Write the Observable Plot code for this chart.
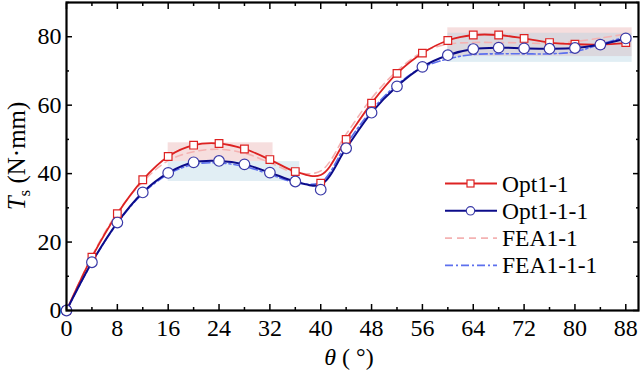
<!DOCTYPE html>
<html>
<head>
<meta charset="utf-8">
<script src="https://cdn.jsdelivr.net/npm/d3@7"></script>
<script src="https://cdn.jsdelivr.net/npm/@observablehq/plot@0.6"></script>
<style>
  html, body { margin: 0; padding: 0; background: #fff; }
  #chart svg { display: block; }
</style>
</head>
<body>
<div id="chart"></div>
<script>
// ---- data ----
const theta = [0,4,8,12,16,20,24,28,32,36,40,44,48,52,56,60,64,68,72,76,80,84,88];
const opt11Markers  = [0,15.6,28.3,38.2,45.0,48.3,48.8,47.2,44.1,40.6,37.2,50.0,60.6,69.3,75.2,78.9,80.5,80.5,79.5,78.3,77.8,77.7,78.3];
const opt11Line     = [0,15.6,28.3,38.2,45.0,48.3,48.8,47.2,44.1,40.6,39.6,50.0,60.6,69.3,75.2,78.9,80.5,80.5,79.5,78.3,77.8,77.7,78.1];
const opt111Markers = [0,14.1,25.7,34.5,40.2,43.3,43.7,42.7,40.3,37.7,35.3,47.4,57.8,65.5,71.2,74.6,76.4,76.8,76.6,76.5,76.7,77.7,79.5];
const opt111Line    = [0,14.1,25.7,34.5,40.2,43.3,43.7,42.7,40.3,37.7,36.8,47.4,57.8,65.5,71.2,74.6,76.4,76.8,76.6,76.5,76.7,77.7,79.5];
const fea11  = [0,15.9,28.6,37.6,43.8,46.4,47.1,46.0,43.2,40.3,40.8,51.5,62.0,70.0,75.5,77.8,78.3,78.3,78.2,78.0,78.6,79.6,80.8];
const fea111 = [0,14.0,25.5,34.2,39.8,42.7,43.1,42.1,39.8,37.4,37.5,48.5,58.5,66.0,71.0,73.5,74.8,75.0,75.0,75.0,75.6,77.8,80.0];

// shaded fluctuation bands: [x1, x2, y1, y2]
const pinkBands = [[16, 32.5, 43.5, 49.0], [60, 89, 74.2, 82.6]];
const blueBands = [[16, 36.7, 37.7, 43.5], [60, 89, 72.5, 81.0]];

const seriesNames = ["Opt1-1", "Opt1-1-1", "FEA1-1", "FEA1-1-1"];
const xTicksMajor = [0,8,16,24,32,40,48,56,64,72,80,88];
const xTicksMinor = [4,12,20,28,36,44,52,60,68,76,84];
const yTicksMajor = [0,20,40,60,80];
const yTicksMinor = [10,30,50,70,90];

// ---- styles ----
const RED = "#dd2222", NAVY = "#0c0c8a", CIRC = "#3a3aa8", PINK = "#f4b2b2", LBLUE = "#5d70ee";
const FONT = "'Liberation Serif', 'Times New Roman', serif";

const rows = (ys) => theta.map((t, i) => ({t, v: ys[i]}));
const bands = (arr) => arr.map(([x1, x2, y1, y2]) => ({x1, x2, y1, y2}));

const W = 641, H = 373;
const plot = Plot.plot({
  width: W, height: H,
  marginLeft: 66, marginRight: 3, marginTop: 2, marginBottom: 63,
  style: {fontFamily: FONT, color: "#000", background: "#fff"},
  x: {domain: [0, 90]},
  y: {domain: [0, 90]},
  marks: [
    Plot.rect(bands(pinkBands), {x1: "x1", x2: "x2", y1: "y1", y2: "y2", fill: "#f0c8c8", fillOpacity: 0.6}),
    Plot.rect(bands(blueBands), {x1: "x1", x2: "x2", y1: "y1", y2: "y2", fill: "#a9cfe0", fillOpacity: 0.35}),
    Plot.line(rows(fea11), {x: "t", y: "v", curve: "catmull-rom", stroke: PINK, strokeWidth: 1.6, strokeDasharray: "7,5"}),
    Plot.line(rows(fea111), {x: "t", y: "v", curve: "catmull-rom", stroke: LBLUE, strokeWidth: 1.6, strokeDasharray: "8,3,2,3"}),
    Plot.line(rows(opt11Line), {x: "t", y: "v", curve: "catmull-rom", stroke: RED, strokeWidth: 1.8}),
    Plot.line(rows(opt111Line), {x: "t", y: "v", curve: "catmull-rom", stroke: NAVY, strokeWidth: 2}),
    Plot.dot(rows(opt11Markers), {x: "t", y: "v", symbol: "square", r: 4.3, fill: "#fff", stroke: RED, strokeWidth: 1.2}),
    Plot.dot(rows(opt111Markers), {x: "t", y: "v", symbol: "circle", r: 5.3, fill: "#fff", stroke: CIRC, strokeWidth: 1.2}),
    // tick labels
    Plot.axisX({ticks: xTicksMajor, tickSize: 0, tickPadding: 8, label: null, fontSize: 24, fontFamily: FONT}),
    Plot.axisY({ticks: yTicksMajor, tickSize: 0, tickPadding: 5, label: null, fontSize: 24, fontFamily: FONT}),
    // inward ticks on all sides
    Plot.axisX({anchor: "bottom", ticks: xTicksMajor, tickSize: -6, text: null, label: null, strokeWidth: 1.5}),
    Plot.axisX({anchor: "bottom", ticks: xTicksMinor, tickSize: -3, text: null, label: null, strokeWidth: 1.5}),
    Plot.axisX({anchor: "top", ticks: xTicksMajor, tickSize: -6, text: null, label: null, strokeWidth: 1.5}),
    Plot.axisX({anchor: "top", ticks: xTicksMinor, tickSize: -3, text: null, label: null, strokeWidth: 1.5}),
    Plot.axisY({anchor: "left", ticks: yTicksMajor, tickSize: -6, text: null, label: null, strokeWidth: 1.5}),
    Plot.axisY({anchor: "left", ticks: yTicksMinor, tickSize: -3, text: null, label: null, strokeWidth: 1.5}),
    Plot.axisY({anchor: "right", ticks: yTicksMajor, tickSize: -6, text: null, label: null, strokeWidth: 1.5}),
    Plot.axisY({anchor: "right", ticks: yTicksMinor, tickSize: -3, text: null, label: null, strokeWidth: 1.5}),
    Plot.frame({stroke: "#000", strokeWidth: 2.2})
  ]
});
document.getElementById("chart").appendChild(plot);

// ---- axis titles & legend (real text) ----
const svg = d3.select(plot);
const yt = svg.append("text")
  .attr("transform", "translate(25,156) rotate(-90)")
  .attr("text-anchor", "middle")
  .attr("font-family", FONT).attr("font-size", 25).attr("fill", "#000");
yt.append("tspan").attr("font-style", "italic").text("T");
yt.append("tspan").attr("font-size", 17).attr("dy", 5).text("s");
yt.append("tspan").attr("dy", -5).text(" (N·mm)");

const xt = svg.append("text")
  .attr("x", 349).attr("y", 365)
  .attr("text-anchor", "middle")
  .attr("font-family", FONT).attr("font-size", 24).attr("fill", "#000");
xt.append("tspan").attr("font-style", "italic").text("θ");
xt.append("tspan").text(" ( °)");

const legendStyles = [
  {stroke: RED, w: 1.8, dash: null, marker: "square", mstroke: RED},
  {stroke: NAVY, w: 2, dash: null, marker: "circle", mstroke: CIRC},
  {stroke: PINK, w: 1.6, dash: "7,5", marker: null},
  {stroke: LBLUE, w: 1.6, dash: "8,3,2,3", marker: null}
];
const lg = svg.append("g");
seriesNames.forEach((name, i) => {
  const y = 183.5 + i * 27.3, s = legendStyles[i];
  const ln = lg.append("line").attr("x1", 445).attr("x2", 497).attr("y1", y).attr("y2", y)
    .attr("stroke", s.stroke).attr("stroke-width", s.w);
  if (s.dash) ln.attr("stroke-dasharray", s.dash);
  if (s.marker === "square") lg.append("rect").attr("x", 467).attr("y", y - 3.5).attr("width", 7).attr("height", 7)
    .attr("fill", "#fff").attr("stroke", s.mstroke).attr("stroke-width", 1.2);
  if (s.marker === "circle") lg.append("circle").attr("cx", 470.5).attr("cy", y).attr("r", 4.2)
    .attr("fill", "#fff").attr("stroke", s.mstroke).attr("stroke-width", 1.2);
  lg.append("text").attr("x", 502).attr("y", y + 8).attr("text-anchor", "start")
    .attr("font-family", FONT).attr("font-size", 23.5)
    .attr("fill", "#000").text(name);
});
</script>
</body>
</html>
